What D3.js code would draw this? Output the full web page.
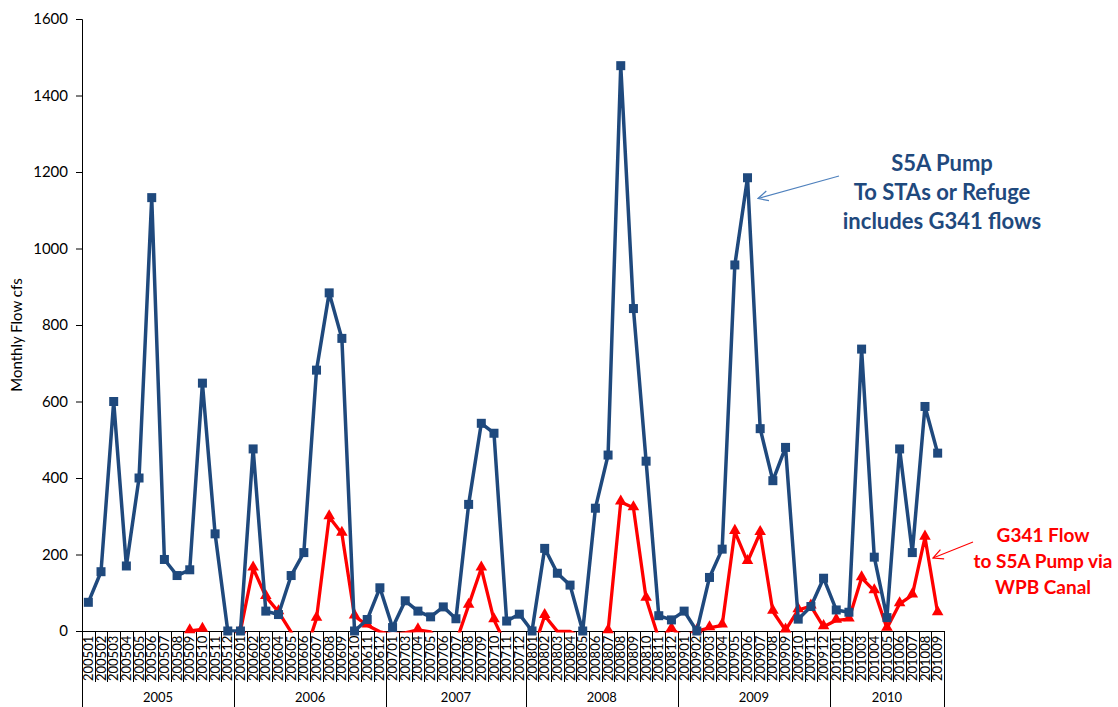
<!DOCTYPE html>
<html>
<head>
<meta charset="utf-8">
<script src="https://cdn.jsdelivr.net/npm/d3@7"></script>
<style>
  html, body { margin: 0; padding: 0; background: #fff; }
  svg { display: block; font-family: Lato, "Open Sans", sans-serif; }
</style>
</head>
<body>
<svg id="chart" width="1118" height="707"></svg>
<script>
// Monthly categories (yyyymm)
const categories = [
  "200501","200502","200503","200504","200505","200506","200507","200508","200509","200510","200511","200512",
  "200601","200602","200603","200604","200605","200606","200607","200608","200609","200610","200611","200612",
  "200701","200703","200704","200705","200706","200707","200708","200709","200710","200711","200712",
  "200801","200802","200803","200804","200805","200806","200807","200808","200809","200810","200811","200812",
  "200901","200902","200903","200904","200905","200906","200907","200908","200909","200910","200911","200912",
  "201001","201002","201003","201004","201005","201006","201007","201008","201009"
];

// S5A pump monthly flow (cfs)
const s5aPump = [
  75, 155, 600, 170, 400, 1133, 187, 145, 160, 648, 254, 0,
  0, 476, 52, 43, 145, 205, 682, 884, 765, 0, 30, 113,
  9, 79, 52, 37, 63, 32, 331, 543, 517, 26, 44,
  0, 216, 151, 120, 0, 321, 460, 1478, 843, 444, 40, 29,
  52, 0, 140, 214, 957, 1185, 529, 393, 480, 31, 64, 138,
  55, 49, 737, 193, 35, 476, 205, 587, 465
];

// G341 monthly flow (cfs); null = no record
const g341Flow = [
  null, null, null, null, null, null, null, null, 0, 4, null, null,
  0, 164, 90, 50, -3, -70, 33, 298, 255, 39, 15, -2,
  -10, -5, 3, -2, -40, -30, 67, 164, 29, -40, -50,
  -60, 40, -1, -1, -20, -20, 0, 337, 322, 85, -20, 5,
  -15, 0, 8, 15, 260, 181, 257, 51, 2, 55, 65, 11,
  28, 31, 139, 105, 7, 71, 94, 245, 47
];

const yTicks = [0, 200, 400, 600, 800, 1000, 1200, 1400, 1600];
const yTitle = "Monthly Flow cfs";
const pumpNote = ["S5A Pump", "To STAs or Refuge", "includes G341 flows"];
const g341Note = ["G341 Flow", "to S5A Pump via", "WPB Canal"];

const BLUE = "#1F497D";
const RED = "#FF0000";

const plotLeft = 82, plotRight = 944, plotTop = 19, plotBottom = 631;

const svg = d3.select("#chart");

const x = d3.scaleBand().domain(categories).range([plotLeft, plotRight]).padding(0);
const y = d3.scaleLinear().domain([0, 1600]).range([plotBottom, plotTop]);
const cx = c => x(c) + x.bandwidth() / 2;

const defs = svg.append("defs");
// clip region for the series lines (values below zero are cut off at the axis)
defs.append("clipPath").attr("id", "plotClip")
  .append("rect").attr("x", plotLeft).attr("y", plotTop - 5)
  .attr("width", plotRight - plotLeft + 5).attr("height", plotBottom - plotTop + 6.5);

// arrowheads for the callouts
[["arrowBlue", "#4F81BD"], ["arrowRed", RED]].forEach(([id, col]) => {
  defs.append("marker").attr("id", id)
    .attr("viewBox", "0 0 12 12").attr("refX", 11).attr("refY", 6)
    .attr("markerWidth", 12).attr("markerHeight", 12)
    .attr("markerUnits", "userSpaceOnUse").attr("orient", "auto")
    .append("path").attr("d", "M1,1 L11,6 L1,11")
    .attr("fill", "none").attr("stroke", col).attr("stroke-width", 1.2);
});

// Y axis
const yAxis = svg.append("g").attr("transform", `translate(${plotLeft},0)`)
  .call(d3.axisLeft(y).tickValues(yTicks).tickSize(6).tickPadding(8).tickFormat(d3.format("d")));
yAxis.select(".domain").attr("stroke", "#000").attr("stroke-width", 1);
yAxis.selectAll(".tick line").attr("stroke", "#000");
yAxis.selectAll(".tick text").attr("font-size", 15).attr("fill", "#000")
  .attr("font-family", "Lato, sans-serif");

svg.append("text")
  .attr("transform", `translate(22,${(plotTop + plotBottom) / 2 + 10}) rotate(-90)`)
  .attr("text-anchor", "middle").attr("font-size", 15).attr("fill", "#000")
  .text(yTitle);

// X axis: month labels
const xAxis = svg.append("g").attr("transform", `translate(0,${plotBottom})`)
  .call(d3.axisBottom(x).tickSize(0).tickPadding(0));
xAxis.select(".domain").remove();
xAxis.selectAll(".tick text")
  .attr("font-size", 13).attr("fill", "#000").attr("font-family", "Lato, sans-serif")
  .attr("transform", "translate(0,50) rotate(-90)")
  .attr("text-anchor", "start").attr("dy", "0.35em").attr("y", 0).attr("x", 0);

// separators between months and between years
const years = Array.from(d3.group(categories, c => c.slice(0, 4)), ([yr, cs]) => ({ yr, cs }));
const yearStarts = new Set(years.map(g => g.cs[0]));
const sepG = svg.append("g").attr("stroke", "#000").attr("stroke-width", 1);
categories.forEach(c => {
  const xe = Math.round(x(c)) + 0.5;
  sepG.append("line").attr("x1", xe).attr("x2", xe).attr("y1", plotBottom)
    .attr("y2", yearStarts.has(c) ? 707 : 682);
});
const xEnd = Math.round(plotRight) + 0.5;
sepG.append("line").attr("x1", xEnd).attr("x2", xEnd).attr("y1", plotBottom).attr("y2", 707);
svg.append("line").attr("x1", plotLeft).attr("x2", plotRight)
  .attr("y1", plotBottom + 0.5).attr("y2", plotBottom + 0.5)
  .attr("stroke", "#000").attr("stroke-width", 1);

// year labels
svg.append("g").selectAll("text").data(years).join("text")
  .attr("x", g => (x(g.cs[0]) + x(g.cs[g.cs.length - 1]) + x.bandwidth()) / 2)
  .attr("y", 702).attr("text-anchor", "middle").attr("font-size", 13).attr("fill", "#000")
  .text(g => g.yr);

// series
const plot = svg.append("g");
const lineGen = vals => d3.line()
  .defined((d, i) => vals[i] != null)
  .x((d, i) => cx(categories[i]))
  .y((d, i) => y(vals[i]))(vals);

// G341 series
plot.append("path").attr("d", lineGen(g341Flow))
  .attr("clip-path", "url(#plotClip)")
  .attr("fill", "none").attr("stroke", RED).attr("stroke-width", 3.3)
  .attr("stroke-linejoin", "round");
const tri = d3.symbol().type(d3.symbolTriangle).size(58);
plot.append("g").selectAll("path")
  .data(categories.map((c, i) => ({ c, v: g341Flow[i] })).filter(d => d.v != null && d.v >= 0))
  .join("path")
  .attr("transform", d => `translate(${cx(d.c)},${y(d.v) - 1})`)
  .attr("d", tri).attr("fill", RED);

// S5A series
plot.append("path").attr("d", lineGen(s5aPump))
  .attr("clip-path", "url(#plotClip)")
  .attr("fill", "none").attr("stroke", BLUE).attr("stroke-width", 3.5)
  .attr("stroke-linejoin", "round");
plot.append("g").selectAll("rect")
  .data(categories.map((c, i) => ({ c, v: s5aPump[i] })))
  .join("rect")
  .attr("x", d => cx(d.c) - 4.5).attr("y", d => y(d.v) - 4.5)
  .attr("width", 9).attr("height", 9).attr("fill", BLUE);

// callouts
svg.append("line").attr("x1", 839).attr("y1", 176).attr("x2", 758).attr("y2", 198.5)
  .attr("stroke", "#4F81BD").attr("stroke-width", 1.2).attr("marker-end", "url(#arrowBlue)");
svg.append("text").attr("text-anchor", "middle").attr("font-size", 22).attr("font-weight", "bold")
  .attr("fill", BLUE)
  .selectAll("tspan").data(pumpNote).join("tspan")
  .attr("x", 942).attr("y", (d, i) => 171 + i * 29).text(d => d);

svg.append("line").attr("x1", 973).attr("y1", 542).attr("x2", 933).attr("y2", 558)
  .attr("stroke", RED).attr("stroke-width", 1.1).attr("marker-end", "url(#arrowRed)");
svg.append("text").attr("text-anchor", "middle").attr("font-size", 19).attr("font-weight", "bold")
  .attr("fill", RED)
  .selectAll("tspan").data(g341Note).join("tspan")
  .attr("x", 1043).attr("y", (d, i) => 542 + i * 26).text(d => d);
</script>
</body>
</html>
